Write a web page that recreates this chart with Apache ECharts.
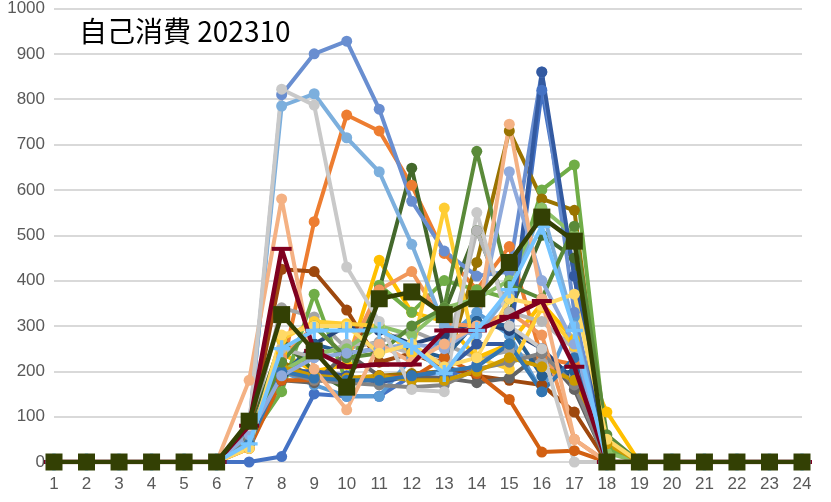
<!DOCTYPE html>
<html><head><meta charset="utf-8">
<script src="https://cdn.jsdelivr.net/npm/echarts@6/dist/echarts.min.js"></script>
<style>html,body{margin:0;padding:0;background:#fff}#c{width:831px;height:502px}</style>
</head><body><div id="c"></div>
<script>
const hours = ['1','2','3','4','5','6','7','8','9','10','11','12','13','14','15','16','17','18','19','20','21','22','23','24'];
const yTicks = [0,100,200,300,400,500,600,700,800,900,1000];
const titleText = '自己消費 202310';
const d01 = [0,0,0,0,0,0, 0,12,150,145,145,190,185,215,255,820,410,0, 0,0,0,0,0,0];
const d02 = [0,0,0,0,0,0, 50,200,530,765,730,610,460,380,475,230,215,0, 0,0,0,0,0,0];
const d03 = [0,0,0,0,0,0, 60,340,320,250,265,290,260,230,245,220,190,0, 0,0,0,0,0,0];
const d04 = [0,0,0,0,0,0, 70,240,200,215,445,330,310,230,260,350,270,110, 0,0,0,0,0,0];
const d05 = [0,0,0,0,0,0, 60,200,170,145,145,230,270,330,280,155,320,0, 0,0,0,0,0,0];
const d06 = [0,0,0,0,0,0, 50,155,370,175,390,330,400,380,360,600,655,30, 0,0,0,0,0,0];
const d07 = [0,0,0,0,0,0, 40,180,260,300,290,260,280,310,290,250,180,0, 0,0,0,0,0,0];
const d08 = [0,0,0,0,0,0, 60,425,420,335,220,240,210,190,180,170,110,0, 0,0,0,0,0,0];
const d09 = [0,0,0,0,0,0, 40,180,175,240,190,185,185,175,185,240,160,0, 0,0,0,0,0,0];
const d10 = [0,0,0,0,0,0, 40,220,190,180,190,195,200,440,730,580,555,0, 0,0,0,0,0,0];
const d11 = [0,0,0,0,0,0, 50,190,260,240,250,250,230,310,300,190,200,0, 0,0,0,0,0,0];
const d12 = [0,0,0,0,0,0, 60,270,200,160,380,648,330,510,330,500,450,0, 0,0,0,0,0,0];
const d13 = [0,0,0,0,0,0, 70,810,900,928,778,575,465,410,420,860,330,0, 0,0,0,0,0,0];
const d14 = [0,0,0,0,0,0, 60,230,300,230,380,420,305,300,330,280,50,0, 0,0,0,0,0,0];
const d15 = [0,0,0,0,0,0, 50,250,230,260,260,240,220,510,330,310,250,0, 0,0,0,0,0,0];
const d16 = [0,0,0,0,0,0, 30,270,310,305,300,240,560,230,205,340,255,0, 0,0,0,0,0,0];
const d17 = [0,0,0,0,0,0, 80,785,812,715,640,480,300,280,370,560,300,0, 0,0,0,0,0,0];
const d18 = [0,0,0,0,0,0, 40,200,240,250,300,280,340,360,400,560,500,20, 0,0,0,0,0,0];
const d19 = [0,0,0,0,0,0, 50,200,200,190,175,190,200,260,260,860,410,0, 0,0,0,0,0,0];
const d20 = [0,0,0,0,0,0, 30,180,180,180,190,185,230,195,138,22,25,0, 0,0,0,0,0,0];
const d21 = [0,0,0,0,0,0, 50,200,180,175,170,165,170,205,220,240,170,0, 0,0,0,0,0,0];
const d22 = [0,0,0,0,0,0, 40,210,190,185,190,180,180,200,230,210,180,40, 0,0,0,0,0,0];
const d23 = [0,0,0,0,0,0, 40,200,185,180,180,190,200,210,260,155,230,0, 0,0,0,0,0,0];
const d24 = [0,0,0,0,0,0, 60,220,300,230,240,300,340,685,390,360,520,60, 0,0,0,0,0,0];
const d25 = [0,0,0,0,0,0, 60,190,230,240,250,260,250,300,640,400,260,0, 0,0,0,0,0,0];
const d26 = [0,0,0,0,0,0, 180,580,205,115,260,220,260,300,745,360,50,0, 0,0,0,0,0,0];
const d27 = [0,0,0,0,0,0, 80,822,787,430,310,160,155,550,300,250,0,0, 0,0,0,0,0,0];
const d28 = [0,0,0,0,0,0, 30,280,300,300,240,260,210,230,360,345,370,50, 0,0,0,0,0,0];
const d29 = [0,0,0,0,0,0, 80,470,245,210,215,215,290,290,320,355,210,0, 0,0,0,0,0,0];
const d30 = [0,0,0,0,0,0, 40,250,290,290,290,255,195,290,380,520,290,0, 0,0,0,0,0,0];
const avg = [0,0,0,0,0,0, 90,325,245,165,360,375,325,360,440,540,487,0, 0,0,0,0,0,0];

const dayData = [d01,d02,d03,d04,d05,d06,d07,d08,d09,d10,d11,d12,d13,d14,d15,d16,d17,d18,d19,d20,d21,d22,d23,d24,d25,d26,d27,d28];
const dayColors = ['#4472C4','#ED7D31','#A5A5A5','#FFC000','#5B9BD5','#70AD47','#264478','#9E480E','#636363','#997300','#255E91','#43682B','#698ED0','#F1975A','#B7B7B7','#FFCD33','#7CAFDD','#8CC168','#335AA1','#D26012','#848484','#CC9A00','#3275B1','#5A8A39','#8FAADC','#F4B183','#C9C9C9','#FFD966'];

const series = dayData.map((d, i) => ({
  type: 'line', data: d, symbol: 'circle', symbolSize: 11,
  lineStyle: { width: 4, color: dayColors[i], join: 'round' }, itemStyle: { color: dayColors[i] },
  z: 2
}));
series.push({
  type: 'line', data: d29, symbol: 'path://M0,0 L20,0 L20,4 L0,4 Z', symbolSize: [20, 4],
  lineStyle: { width: 4.5, color: '#7F0020' }, itemStyle: { color: '#7F0020' }, z: 3
});
series.push({
  type: 'line', data: d30, symbol: 'path://M8,0 L12,0 L12,8 L20,8 L20,12 L12,12 L12,20 L8,20 L8,12 L0,12 L0,8 L8,8 Z', symbolSize: 17,
  lineStyle: { width: 4, color: '#75C4FF' }, itemStyle: { color: '#75C4FF' }, z: 3
});
series.push({
  type: 'line', data: avg, symbol: 'rect', symbolSize: 17,
  lineStyle: { width: 4.5, color: '#334004' }, itemStyle: { color: '#334004' }, z: 4
});

const chart = echarts.init(document.getElementById('c'), null, { renderer: 'canvas' });
chart.setOption({
  animation: false,
  title: { text: titleText, left: 74, top: 12, textStyle: { fontFamily: 'Noto Sans CJK JP', fontSize: 28, fontWeight: 'normal', color: '#000' } },
  grid: { left: 54, right: 29, top: 7, bottom: 40 },
  xAxis: {
    type: 'category', data: hours, boundaryGap: false,
    axisLine: { show: false }, axisTick: { show: false },
    axisLabel: { color: '#595959', fontSize: 17, fontFamily: 'Liberation Sans Narrow, Liberation Sans', margin: 14 }
  },
  yAxis: {
    type: 'value', min: yTicks[0], max: yTicks[yTicks.length - 1], interval: 100,
    axisLine: { show: false }, axisTick: { show: false },
    axisLabel: { color: '#595959', fontSize: 17, fontFamily: 'Liberation Sans', margin: 9, formatter: v => String(v) },
    splitLine: { lineStyle: { color: '#D9D9D9', width: 2 } }
  },
  series: series
});
</script></body></html>
